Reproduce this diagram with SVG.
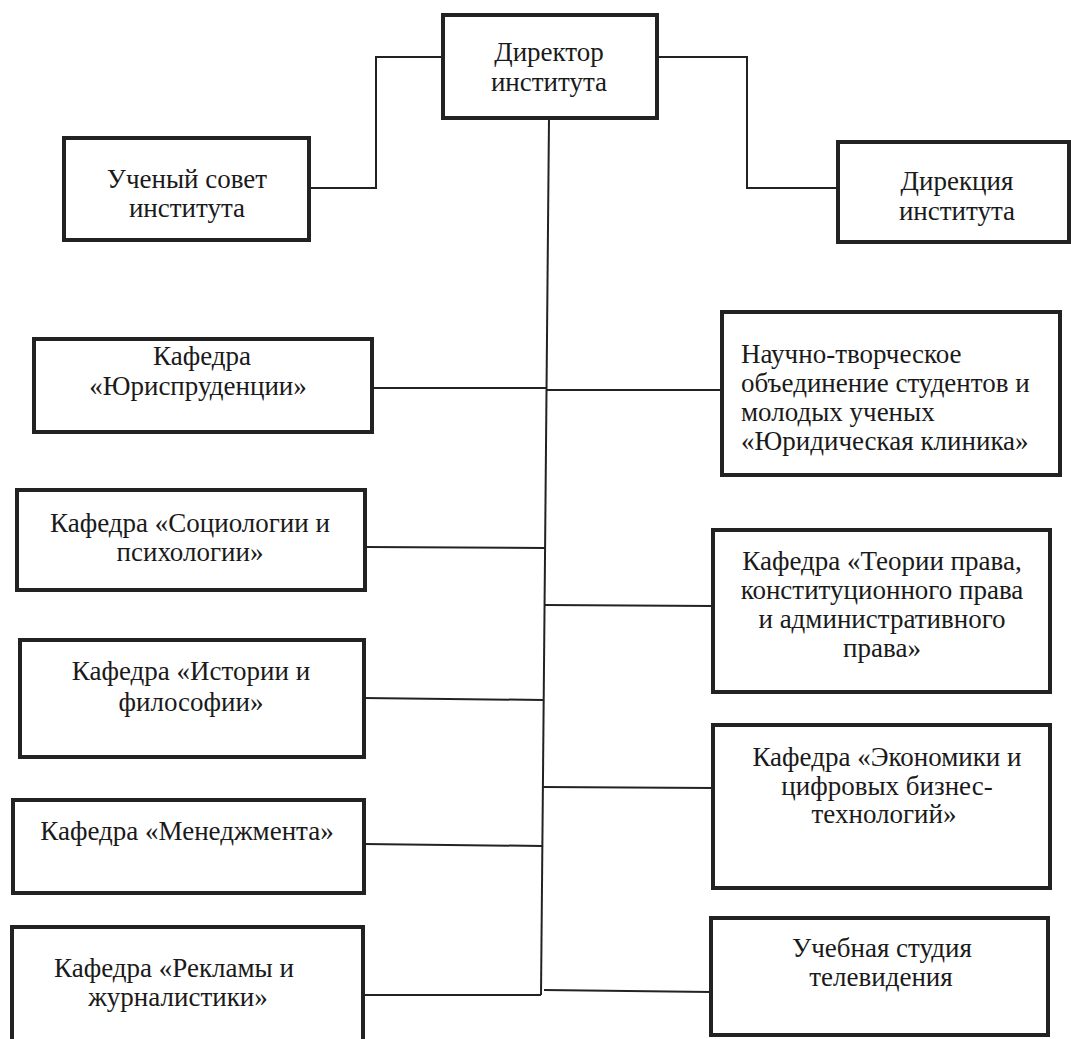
<svg xmlns="http://www.w3.org/2000/svg" width="1071" height="1039" viewBox="0 0 1071 1039">
<style>
.box{fill:#fff;stroke:#222;stroke-width:4}
.ln{fill:none;stroke:#222;stroke-width:2}
text{font-family:"Liberation Serif","Times New Roman",serif;font-size:27px;fill:#1a1a1a}
.c{text-anchor:middle}
</style>
<rect width="1071" height="1039" fill="#fff"/>
<g id="connectors">
<polyline class="ln" points="443,57 376,57 376,188 309,188"/>
<polyline class="ln" points="657,57 747,57 747,188 838,188"/>
<line class="ln" x1="549" y1="118" x2="541" y2="995"/>
<line class="ln" x1="372" y1="388" x2="546" y2="388"/>
<line class="ln" x1="546" y1="390" x2="722" y2="390"/>
<line class="ln" x1="365" y1="547" x2="545" y2="548"/>
<line class="ln" x1="545" y1="605" x2="713" y2="606"/>
<line class="ln" x1="364" y1="698" x2="543" y2="700"/>
<line class="ln" x1="543" y1="787" x2="713" y2="788"/>
<line class="ln" x1="364" y1="844" x2="542" y2="846"/>
<line class="ln" x1="363" y1="995" x2="541" y2="995"/>
<line class="ln" x1="544" y1="990" x2="711" y2="992"/>
</g>
<g id="director">
<rect class="box" x="443" y="15" width="214" height="103"/>
<text class="c" x="549" y="61">Директор</text>
<text class="c" x="549" y="91">института</text>
</g>
<g id="council">
<rect class="box" x="64" y="138" width="245" height="102"/>
<text class="c" x="187" y="188">Ученый совет</text>
<text class="c" x="187" y="217">института</text>
</g>
<g id="directorate">
<rect class="box" x="838" y="142" width="231" height="100"/>
<text class="c" x="957" y="190">Дирекция</text>
<text class="c" x="957" y="220">института</text>
</g>
<g id="jurisprudence">
<rect class="box" x="34" y="339" width="338" height="93"/>
<text class="c" x="202" y="365">Кафедра</text>
<text class="c" x="198" y="395">«Юриспруденции»</text>
</g>
<g id="clinic">
<rect class="box" x="722" y="312" width="338" height="163"/>
<text x="741" y="363">Научно-творческое</text>
<text x="741" y="392">объединение студентов и</text>
<text x="741" y="421">молодых ученых</text>
<text x="741" y="450">«Юридическая клиника»</text>
</g>
<g id="sociology">
<rect class="box" x="17" y="490" width="348" height="100"/>
<text class="c" x="190" y="532">Кафедра «Социологии и</text>
<text class="c" x="190" y="561">психологии»</text>
</g>
<g id="theory">
<rect class="box" x="713" y="530" width="337" height="162"/>
<text class="c" x="882" y="570">Кафедра «Теории права,</text>
<text class="c" x="882" y="599">конституционного права</text>
<text class="c" x="882" y="628">и административного</text>
<text class="c" x="882" y="657">права»</text>
</g>
<g id="history">
<rect class="box" x="20" y="640" width="344" height="117"/>
<text class="c" x="191" y="680">Кафедра «Истории и</text>
<text class="c" x="191" y="711">философии»</text>
</g>
<g id="economics">
<rect class="box" x="713" y="725" width="337" height="163"/>
<text class="c" x="887" y="766">Кафедра «Экономики и</text>
<text class="c" x="887" y="795">цифровых бизнес-</text>
<text class="c" x="884" y="823">технологий»</text>
</g>
<g id="management">
<rect class="box" x="13" y="800" width="351" height="93"/>
<text class="c" x="187" y="840">Кафедра «Менеджмента»</text>
</g>
<g id="advertising">
<rect class="box" x="12" y="927" width="351" height="130"/>
<text class="c" x="174" y="977">Кафедра «Рекламы и</text>
<text class="c" x="178" y="1006">журналистики»</text>
</g>
<g id="studio">
<rect class="box" x="711" y="918" width="337" height="117"/>
<text class="c" x="882" y="957">Учебная студия</text>
<text class="c" x="881" y="986">телевидения</text>
</g>
</svg>
